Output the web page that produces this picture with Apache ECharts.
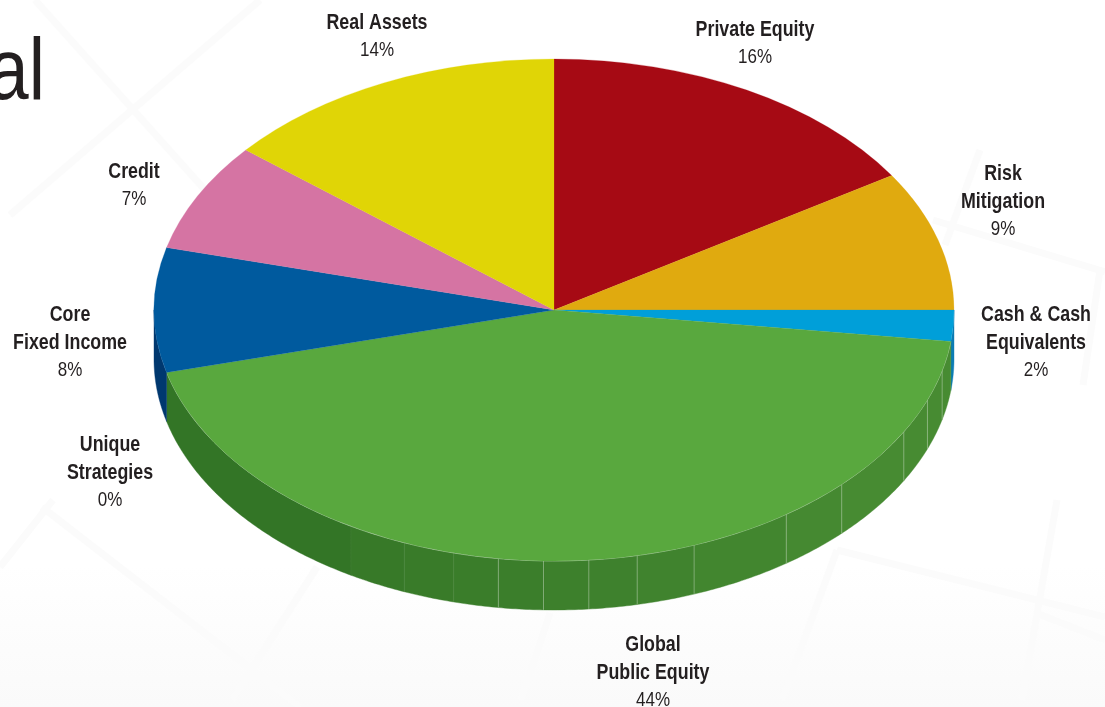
<!DOCTYPE html>
<html>
<head>
<meta charset="utf-8">
<style>
  html, body { margin: 0; padding: 0; background: #fff; }
  #chart { width: 1105px; height: 707px; }
</style>
<script src="https://cdn.jsdelivr.net/npm/echarts@6/dist/echarts.min.js"></script>
</head>
<body>
<div id="chart"></div>
<script>
// Allocation shares, clockwise from twelve o'clock
const categories = ['Private Equity', 'Risk\nMitigation', 'Cash & Cash\nEquivalents', 'Global\nPublic Equity',
  'Unique\nStrategies', 'Core\nFixed Income', 'Credit', 'Real Assets'];
const values = [16, 9, 2, 44, 0, 8, 7, 14];

// Slice styling, in the same order
const topColors = ['#a60a14', '#e0aa0f', '#009fd9', '#59a83e', '#59a83e', '#005a9e', '#d574a3', '#e0d506'];
const wallColors = ['#7a0a10', '#a87f0b', '#0b7cb4', null, null, '#00386f', '#a05a7c', '#a8a005'];

// Label anchors: horizontal centre and centre of the first text line
const labelAnchors = [[755, 30], [1003, 174], [1036, 315], [653, 645], [110, 445], [70, 315], [134, 172], [377, 23]];

// Where the rim of the large slice is creased, in degrees clockwise from the top
const creaseAngles = [104, 111, 119, 134, 144.5, 159.5, 168, 175, 181.5, 188, 194.5, 202, 210.5];

// Faint backdrop strokes
const backdropStrokes = [
  [35, 0, 205, 190], [260, 0, 10, 215], [933, 220, 1105, 272], [980, 150, 945, 245],
  [1100, 270, 1083, 385], [837, 550, 1105, 617], [837, 550, 782, 700], [42, 507, 300, 707],
  [53, 500, 0, 567], [317, 567, 232, 700], [550, 613, 521, 700], [1057, 500, 1022, 700], [1036, 613, 1105, 640]
];

const CX = 554, CY = 310, RX = 400, RY = 251, DEPTH = 49;
const FRONT_START = 90, FRONT_END = 270;
const LABEL_FONT = '"Liberation Sans"';
const NARROW = 0.81;
const total = values.reduce((a, b) => a + b, 0);
const toDeg = v => echarts.number.linearMap(v, [0, total], [0, 360]);

let running = 0;
const sliceData = values.map((v, i) => {
  const row = [v, running, i];
  running += v;
  return row;
});

const rimPoint = (deg, dy) => {
  const a = deg * Math.PI / 180;
  return [CX + RX * Math.sin(a), CY - RY * Math.cos(a) + (dy || 0)];
};

// A band of the side wall between two angles, following the ellipse
function wallBand(a0, a1, color) {
  const pts = [];
  const steps = Math.max(2, Math.ceil((a1 - a0) * 2));
  for (let k = 0; k <= steps; k++) pts.push(rimPoint(a0 + (a1 - a0) * k / steps, 0));
  for (let k = steps; k >= 0; k--) pts.push(rimPoint(a0 + (a1 - a0) * k / steps, DEPTH));
  return { type: 'polygon', shape: { points: pts }, style: { fill: color, stroke: color, lineWidth: 0.4 } };
}

function renderWall(params, api) {
  const start = toDeg(api.value(1));
  const end = start + toDeg(api.value(0));
  const idx = api.value(2);
  const a0 = Math.max(start, FRONT_START), a1 = Math.min(end, FRONT_END);
  if (a1 <= a0) return null;
  const children = [];
  if (wallColors[idx]) {
    children.push(wallBand(a0, a1, wallColors[idx]));
  } else {
    // Large slice: stepped shading between the creases, darkening towards the left
    const marks = [a0].concat(creaseAngles.filter(c => c > a0 && c < a1), [a1]);
    for (let k = 0; k < marks.length - 1; k++) {
      const mid = (marks[k] + marks[k + 1]) / 2;
      const t = Math.min(1, Math.max(0, (225 - mid) / 95));
      children.push(wallBand(marks[k], marks[k + 1], echarts.color.lerp(t, ['#337526', '#478b32'])));
    }
    creaseAngles.filter(c => c > a0 && c < a1).forEach(c => {
      const p = rimPoint(c, 0), q = rimPoint(c, DEPTH);
      const alpha = c > 192 ? 0.06 : 0.3;
      children.push({ type: 'line', shape: { x1: p[0], y1: p[1], x2: q[0], y2: q[1] },
        style: { stroke: 'rgba(255,255,255,' + alpha + ')', lineWidth: 1 } });
    });
    // Pale highlight along the front edge of the top face
    const rim = [];
    for (let d = a0; d <= a1; d += 1) rim.push(rimPoint(d, 0));
    children.push({ type: 'polyline', shape: { points: rim },
      style: { fill: null, stroke: 'rgba(255,255,255,0.4)', lineWidth: 1 } });
  }
  return { type: 'group', children };
}

function renderTop(params, api) {
  const span = toDeg(api.value(0));
  if (span <= 0) return null;
  const start = toDeg(api.value(1));
  const rad = d => (d - 90) * Math.PI / 180;
  const color = topColors[api.value(2)];
  return {
    type: 'sector',
    x: CX, y: CY, scaleY: RY / RX,
    shape: { cx: 0, cy: 0, r0: 0, r: RX, startAngle: rad(start), endAngle: rad(start + span), clockwise: true },
    style: { fill: color, stroke: color, lineWidth: 0.3 }
  };
}

const LINE_H = 27.5;
function renderLabel(params, api) {
  const idx = api.value(2);
  const anchor = labelAnchors[idx];
  const name = categories[idx].split('\n').map(s => '{b|' + s + '}').join('\n');
  return {
    type: 'text',
    x: anchor[0], y: anchor[1] - LINE_H / 2,
    scaleX: NARROW,
    style: {
      text: name + '\n{r|' + api.value(0) + '%}',
      align: 'center', verticalAlign: 'top',
      rich: {
        b: { fontFamily: LABEL_FONT, fontWeight: 'bold', fontSize: 22, lineHeight: LINE_H, fill: '#231f20', align: 'center' },
        r: { fontFamily: LABEL_FONT, fontSize: 21, lineHeight: LINE_H, fill: '#231f20', align: 'center' }
      }
    }
  };
}

const backdrop = [{
  type: 'rect', z: -2,
  shape: { x: 0, y: 0, width: 1105, height: 707 },
  style: { fill: new echarts.graphic.LinearGradient(0, 0, 0, 1, [
    { offset: 0, color: '#ffffff' }, { offset: 0.8, color: '#ffffff' }, { offset: 1, color: '#fafafa' }
  ]) }
}].concat(backdropStrokes.map(s => ({
  type: 'line', z: -1,
  shape: { x1: s[0], y1: s[1], x2: s[2], y2: s[3] },
  style: { stroke: '#fbfbfb', lineWidth: 7 }
}))).concat([{
  type: 'text', z: 1,
  x: 45, y: 119, scaleX: 0.84,
  style: { text: 'al', align: 'right', verticalAlign: 'bottom',
    fontFamily: LABEL_FONT, fontSize: 87, lineHeight: 87, fill: '#231f20' }
}]);

const chart = echarts.init(document.getElementById('chart'), null, { renderer: 'canvas' });
chart.setOption({
  animation: false,
  backgroundColor: '#ffffff',
  graphic: backdrop,
  series: [
    { type: 'custom', coordinateSystem: 'none', z: 2, data: sliceData, renderItem: renderWall, silent: true },
    { type: 'custom', coordinateSystem: 'none', z: 3, data: sliceData, renderItem: renderTop, silent: true },
    { type: 'custom', coordinateSystem: 'none', z: 4, data: sliceData, renderItem: renderLabel, silent: true }
  ]
});
</script>
</body>
</html>
